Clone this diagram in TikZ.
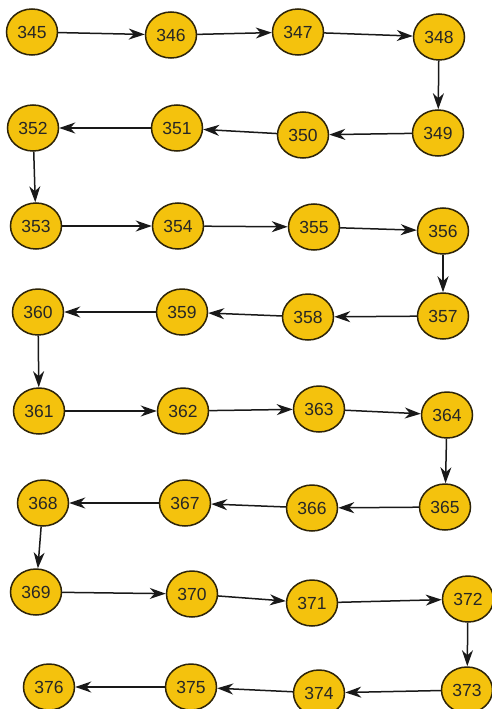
\documentclass[tikz,border=0pt]{standalone}
\usepackage{fontspec}
\setmainfont{Liberation Sans}
\usetikzlibrary{shapes.geometric,arrows.meta}
\definecolor{gold}{HTML}{F4C20D}
\definecolor{rim}{HTML}{2E2408}
\tikzset{
  x=1pt, y=-1pt,
  num/.style={ellipse, draw=rim, line width=1.5pt, fill=gold,
    minimum width=51pt, minimum height=46pt, inner sep=0pt,
    font=\fontsize{17.5}{19}\selectfont, text=black!85},
  link/.style={-{Stealth[length=16pt,width=11pt,inset=5pt]}, line width=1.5pt, black!90}
}
\begin{document}
\begin{tikzpicture}
\fill[white] (0,0) rectangle (492,709);
\useasboundingbox (0,0) rectangle (492,709);
% row 1
\node[num] (n345) at (32,32) {345};
\node[num] (n346) at (171,35) {346};
\node[num] (n347) at (298,32) {347};
\node[num] (n348) at (439,37) {348};
% row 2
\node[num] (n349) at (438,133) {349};
\node[num] (n350) at (303,135) {350};
\node[num] (n351) at (177,128) {351};
\node[num] (n352) at (33,128) {352};
% row 3
\node[num] (n353) at (36,226) {353};
\node[num] (n354) at (178,226) {354};
\node[num] (n355) at (314,227) {355};
\node[num] (n356) at (443,231) {356};
% row 4
\node[num] (n357) at (443,316) {357};
\node[num] (n358) at (308,317) {358};
\node[num] (n359) at (182,312) {359};
\node[num] (n360) at (38,312) {360};
% row 5
\node[num] (n361) at (39,411) {361};
\node[num] (n362) at (183,411) {362};
\node[num] (n363) at (319,409) {363};
\node[num] (n364) at (447,415) {364};
% row 6
\node[num] (n365) at (445,507) {365};
\node[num] (n366) at (312,508) {366};
\node[num] (n367) at (185,503) {367};
\node[num] (n368) at (43,503) {368};
% row 7
\node[num] (n369) at (36,592) {369};
\node[num] (n370) at (192,594) {370};
\node[num] (n371) at (312,603) {371};
\node[num] (n372) at (468,599) {372};
% row 8
\node[num] (n373) at (467,690) {373};
\node[num] (n374) at (319,693) {374};
\node[num] (n375) at (191,687) {375};
\node[num] (n376) at (49,687) {376};
% chain of arrows
\foreach \a/\b in {345/346,346/347,347/348,348/349,349/350,350/351,351/352,352/353,
  353/354,354/355,355/356,356/357,357/358,358/359,359/360,360/361,
  361/362,362/363,363/364,364/365,365/366,366/367,367/368,368/369,
  369/370,370/371,371/372,372/373,373/374,374/375,375/376}
  \draw[link] (n\a) -- (n\b);
\end{tikzpicture}
\end{document}
